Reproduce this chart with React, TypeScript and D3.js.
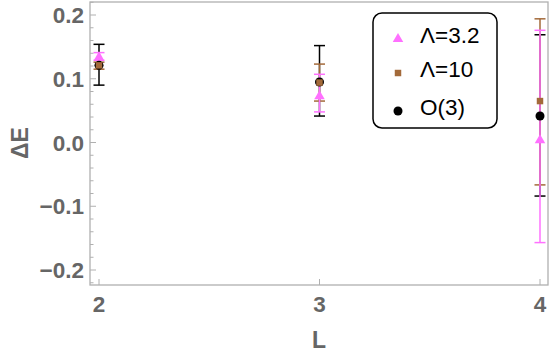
import React from 'react';
import * as d3 from 'd3';

const sizes = [2, 3, 4];

// Λ=3.2
const lam32 = [0.135, 0.074, 0.005];
const lam32Hi = [0.141, 0.107, 0.176];
const lam32Lo = [0.129, 0.048, -0.157];

// Λ=10
const lam10 = [0.121, 0.094, 0.065];
const lam10Hi = [0.126, 0.123, 0.194];
const lam10Lo = [0.115, 0.065, -0.0665];

// O(3)
const o3 = [0.121, 0.095, 0.0415];
const o3Hi = [0.154, 0.152, 0.169];
const o3Lo = [0.09, 0.0415, -0.084];

const yTicks = [-0.2, -0.1, 0.0, 0.1, 0.2];
const xTicks = [2, 3, 4];
const legendNames = ['Λ=3.2', 'Λ=10', 'O(3)'];

const W = 550;
const H = 355;
const left = 90;
const right = 548;
const top = 2;
const bottom = 285;

const PINK = '#ff70ff';
const BROWN = '#a36a3a';
const BLACK = '#000000';
const AXIS = '#b0b0b0';
const LABEL = '#666666';

const x = d3.scaleLinear().domain([2, 4]).range([99, 540]);
const y = d3.scaleLinear().domain([0, 0.2]).range([142.5, 15]);

type Series = { vals: number[]; hi: number[]; lo: number[]; color: string };

const pink: Series = { vals: lam32, hi: lam32Hi, lo: lam32Lo, color: PINK };
const brown: Series = { vals: lam10, hi: lam10Hi, lo: lam10Lo, color: BROWN };
const black: Series = { vals: o3, hi: o3Hi, lo: o3Lo, color: BLACK };

function ErrorBars({ s }: { s: Series }) {
  return (
    <g stroke={s.color} strokeWidth={1.5}>
      {sizes.map((l, i) => (
        <g key={l}>
          <line x1={x(l)} x2={x(l)} y1={y(s.hi[i])} y2={y(s.lo[i])} />
          <line x1={x(l) - 5.5} x2={x(l) + 5.5} y1={y(s.hi[i])} y2={y(s.hi[i])} />
          <line x1={x(l) - 5.5} x2={x(l) + 5.5} y1={y(s.lo[i])} y2={y(s.lo[i])} />
        </g>
      ))}
    </g>
  );
}

const triangle = d3.symbol().type(d3.symbolTriangle).size(48)();
const square = d3.symbol().type(d3.symbolSquare).size(42)();
const circle = d3.symbol().type(d3.symbolCircle).size(64)();

function Markers({ s, path, dy = 0 }: { s: Series; path: string | null; dy?: number }) {
  return (
    <g fill={s.color}>
      {sizes.map((l, i) => (
        <path key={l} d={path || ''} transform={`translate(${x(l)},${y(s.vals[i]) + dy})`} />
      ))}
    </g>
  );
}

export default function App() {
  const minor = d3.range(-0.22, 0.221, 0.02).map(v => Math.round(v * 100) / 100);
  const fmt = (v: number) => (v < 0 ? '\u2212' : '') + Math.abs(v).toFixed(1);
  return (
    <svg
      width={W}
      height={H}
      style={{ position: 'absolute', left: 0, top: 0, background: '#fff' }}
      fontFamily="'Liberation Sans', Arial, sans-serif"
    >
      {/* frame */}
      <rect x={left} y={top} width={right - left} height={bottom - top} fill="none" stroke={AXIS} strokeWidth={1.3} />

      {/* y ticks */}
      {minor.map(v => {
        const major = Math.abs(v * 10 - Math.round(v * 10)) < 1e-6;
        if (y(v) > bottom || y(v) < top) return null;
        return (
          <line key={v} x1={left} x2={left + (major ? 6 : 3.5)} y1={y(v)} y2={y(v)} stroke={AXIS} strokeWidth={1} />
        );
      })}
      {yTicks.map(v => (
        <text
          key={v}
          x={84}
          y={y(v)}
          dy="0.36em"
          textAnchor="end"
          fontSize={22.5}
          fontWeight="bold"
          fill={LABEL}
        >
          {fmt(v)}
        </text>
      ))}

      {/* x ticks */}
      {xTicks.map(v => (
        <g key={v}>
          <line x1={x(v)} x2={x(v)} y1={bottom} y2={bottom - 6} stroke={AXIS} strokeWidth={1} />
          <text x={x(v)} y={304} dy="0.36em" textAnchor="middle" fontSize={22.5} fontWeight="bold" fill={LABEL}>
            {v}
          </text>
        </g>
      ))}

      {/* axis labels */}
      <text x={319} y={340} dy="0.36em" textAnchor="middle" fontSize={23} fontWeight="bold" fill={LABEL}>
        L
      </text>
      <text
        transform={`translate(20,143) rotate(-90)`}
        dy="0.36em"
        textAnchor="middle"
        fontSize={23}
        fontWeight="bold"
        fill={LABEL}
      >
        ΔE
      </text>

      {/* data */}
      <ErrorBars s={black} />
      <ErrorBars s={brown} />
      <ErrorBars s={pink} />
      <Markers s={pink} path={triangle} dy={1} />
      <Markers s={black} path={circle} />
      <Markers s={brown} path={square} />

      {/* legend */}
      <rect x={373} y={13} width={124} height={115} rx={9} fill="#fff" stroke="#000" strokeWidth={1.5} />
      {legendNames.map((name, i) => {
        const cy = [39, 73, 111][i];
        const p = [triangle, square, circle][i];
        const c = [PINK, BROWN, BLACK][i];
        return (
          <g key={name}>
            <path d={p || ''} fill={c} transform={`translate(398,${cy})`} />
            <text x={420} y={cy - 4} dy="0.36em" fontSize={22.5} fill="#000">
              {name}
            </text>
          </g>
        );
      })}
    </svg>
  );
}
